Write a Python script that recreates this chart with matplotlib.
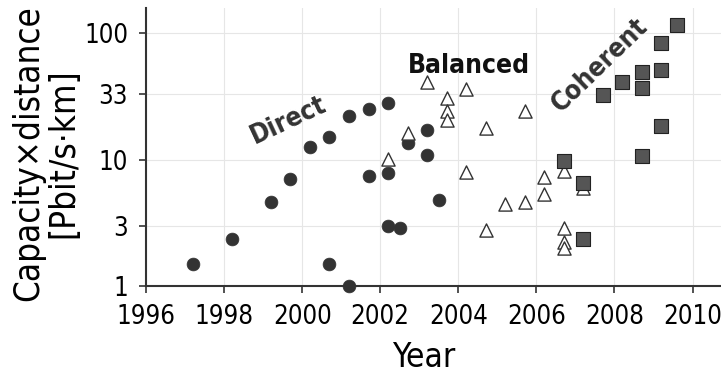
import matplotlib
matplotlib.use("Agg")
import matplotlib.pyplot as plt

direct_year = [1997.2, 1998.2, 1999.2, 1999.7, 2000.2, 2000.7, 2000.7, 2001.2, 2001.2,
               2001.7, 2001.7, 2002.2, 2002.2, 2002.2, 2002.5, 2002.7, 2003.2, 2003.2, 2003.5]
direct_val = [1.5, 2.35, 4.6, 7.0, 12.7, 15.2, 1.5, 22.2, 1.0,
              25.3, 7.4, 28.3, 7.8, 3.0, 2.88, 13.6, 17.1, 10.9, 4.8]

balanced_year = [2002.2, 2002.7, 2003.2, 2003.7, 2003.7, 2003.7, 2004.2, 2004.2, 2004.7, 2004.7,
                 2005.2, 2005.7, 2005.7, 2006.2, 2006.2, 2006.7, 2006.7, 2006.7, 2006.7, 2007.2]
balanced_val = [10.1, 16.4, 41.0, 31.0, 24.3, 20.6, 36.5, 8.0, 17.7, 2.8,
                4.46, 4.6, 24.4, 7.25, 5.4, 8.1, 2.9, 2.22, 2.0, 6.0]

coherent_year = [2006.7, 2007.2, 2007.2, 2007.7, 2008.2, 2008.7, 2008.7, 2008.7,
                 2009.2, 2009.2, 2009.2, 2009.6]
coherent_val = [9.8, 6.6, 2.37, 32.5, 41.5, 49.2, 37.2, 10.7, 51.3, 84.4, 18.5, 116.6]

xticks = [1996, 1998, 2000, 2002, 2004, 2006, 2008, 2010]
yticks = [1, 3, 10, 33, 100]
ytick_labels = ["1", "3", "10", "33", "100"]

fig = plt.figure(figsize=(7.21, 3.74), dpi=100)
ax = fig.add_axes([0.2025, 0.2353, 0.797, 0.7433])
ax.set_yscale("log")
ax.set_xlim(1996, 2010.72)
ax.set_ylim(1, 159)

ax.grid(True, color="#e6e6e6", linewidth=0.8, zorder=0)
ax.set_axisbelow(True)

ax.scatter(direct_year, direct_val, s=85, marker="o", color="#333333", edgecolor="#333333",
           linewidth=0.5, zorder=3, clip_on=False)
ax.scatter(balanced_year, balanced_val, s=90, marker="^", facecolor="white", edgecolor="#333333",
           linewidth=1.0, zorder=3)
ax.scatter(coherent_year, coherent_val, s=95, marker="s", facecolor="#555555", edgecolor="#222222",
           linewidth=0.8, zorder=3)

ax.set_xticks(xticks)
ax.set_yticks(yticks)
ax.set_yticklabels(ytick_labels)
ax.minorticks_off()
for lab in ax.get_xticklabels() + ax.get_yticklabels():
    lab.set_fontsize(18.5)
    lab.set_fontstretch("condensed")
ax.tick_params(axis="both", direction="out", length=5, width=1.2, color="#333333")
ax.tick_params(axis="x", pad=8)
ax.tick_params(axis="y", pad=8)

for side in ["top", "right"]:
    ax.spines[side].set_visible(False)
for side in ["left", "bottom"]:
    ax.spines[side].set_color("#333333")
    ax.spines[side].set_linewidth(1.5)

fig.text(424 / 721, 1 - 367 / 374, "Year", fontsize=24, fontstretch="condensed",
         ha="center", va="baseline")
fig.text(46 / 721, 1 - 153 / 374, "Capacity×distance\n[Pbit/s·km]", fontsize=25,
         fontstretch="condensed", rotation=90, ha="center", va="center",
         multialignment="center", linespacing=1.05)

ax.text(1999.66, 20.6, "Direct", fontsize=19, fontweight="bold", color="#333333",
        rotation=25, ha="center", va="center", fontstretch="condensed")
ax.text(2004.28, 55.2, "Balanced", fontsize=19, fontweight="bold", color="#111111",
        rotation=0, ha="center", va="center", fontstretch="condensed")
ax.text(2007.62, 56.2, "Coherent", fontsize=19, fontweight="bold", color="#333333",
        rotation=44, ha="center", va="center", fontstretch="condensed")

fig.savefig("out.png", dpi=100)
